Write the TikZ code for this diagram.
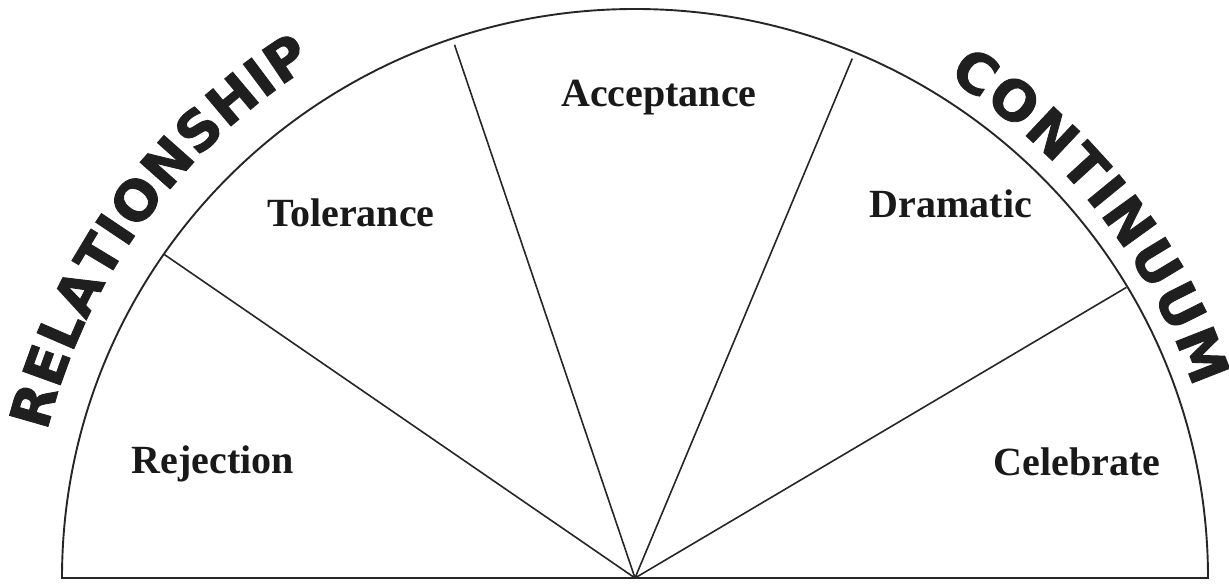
\documentclass[tikz,border=0pt]{standalone}
\usepackage{fontspec}
\setmainfont{Liberation Serif}
\newfontfamily\arcfont{DejaVu Sans}[BoldFeatures={FakeBold=1.6}]
\usetikzlibrary{decorations.text}
\begin{document}
\begin{tikzpicture}[x=1pt,y=1pt,
  outline/.style={line width=1.9pt, black!85},
  divider/.style={line width=1.6pt, black!85},
  lbl/.style={font=\fontsize{40}{40}\selectfont\bfseries, anchor=base, inner sep=0pt, text=black!90},
  arctext/.style={decorate, decoration={text along path, text align=fit to path,
     text={|\arcfont\bfseries\fontsize{55}{55}\selectfont\color{black!88}|#1}}}
]
\useasboundingbox (0,0) rectangle (1229,587);
\coordinate (O) at (635,9);
% outline of the half disc
\draw[outline] (O) ++(-573,0) coordinate (L)
  arc[start angle=180, end angle=0, x radius=573, y radius=569] coordinate (R) -- cycle;
% end points of the dividers
\path (O) ++(145.5:571) coordinate (a1);
\path (O) ++(108.7:563) coordinate (a2);
\path (O) ++(67.3:563) coordinate (a3);
\path (O) ++(30.6:571) coordinate (a4);
\draw[divider] (O) -- (a1);
\draw[divider] (O) -- (a2);
\draw[divider] (O) -- (a3);
\draw[divider] (O) -- (a4);
% sector labels
\node[lbl] (rej) at (213,114) {Rejection};
\node[lbl] (tol) at (351,360) {Tolerance};
\node[lbl] (acc) at (659,480) {Acceptance};
\node[lbl] (dra) at (951,369) {Dramatic};
\node[lbl] (cel) at (1077,112) {Celebrate};
% curved titles
\path[arctext=RELATIONSHIP] (O) ++(166:606) arc[start angle=166, end angle=122, radius=606];
\path[arctext=CONTINUUM] (O) ++(58:590) arc[start angle=58, end angle=18.8, radius=590];
\end{tikzpicture}
\end{document}
